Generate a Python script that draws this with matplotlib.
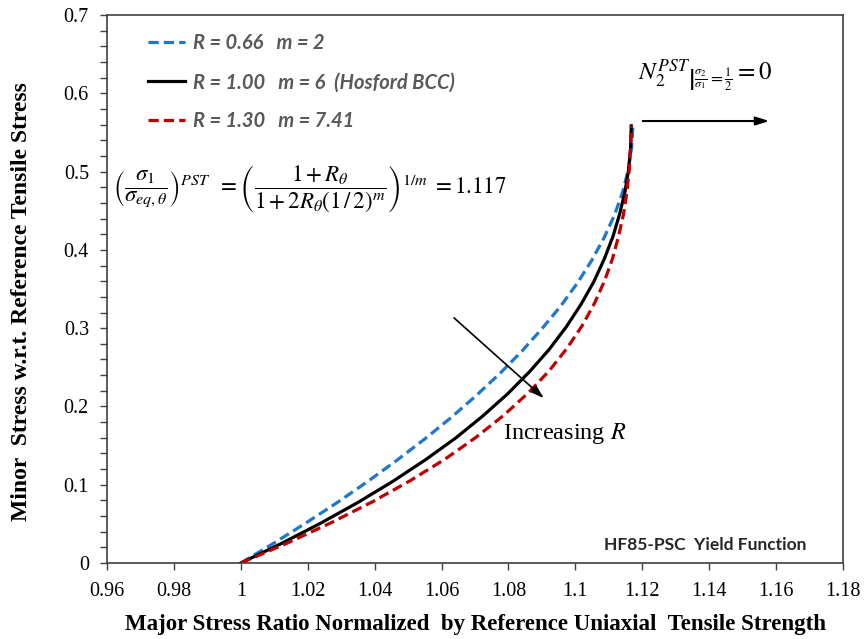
import matplotlib.pyplot as plt
from matplotlib.ticker import MultipleLocator

plt.rcParams['mathtext.fontset'] = 'stix'

# Curves: major stress ratio (x) vs minor stress (y)
x_r066 = [1.0000, 1.0098, 1.0194, 1.0288, 1.0378, 1.0465, 1.0549, 1.0629, 1.0704, 1.0775, 1.0841,
          1.0901, 1.0957, 1.1006, 1.1049, 1.1086, 1.1117, 1.1141, 1.1158, 1.1168, 1.1172]
y_r066 = [0.0000, 0.0252, 0.0510, 0.0772, 0.1038, 0.1308, 0.1582, 0.1860, 0.2141, 0.2424, 0.2710,
          0.2998, 0.3287, 0.3577, 0.3867, 0.4157, 0.4447, 0.4735, 0.5021, 0.5305, 0.5586]
x_r100 = [1.0000, 1.0123, 1.0240, 1.0351, 1.0455, 1.0552, 1.0642, 1.0723, 1.0797, 1.0863, 1.0922,
          1.0973, 1.1017, 1.1055, 1.1086, 1.1112, 1.1132, 1.1148, 1.1159, 1.1165, 1.1167]
y_r100 = [0.0000, 0.0253, 0.0512, 0.0776, 0.1045, 0.1319, 0.1596, 0.1877, 0.2159, 0.2444, 0.2730,
          0.3018, 0.3305, 0.3593, 0.3880, 0.4167, 0.4453, 0.4738, 0.5021, 0.5303, 0.5584]
x_r130 = [1.0000, 1.0138, 1.0269, 1.0392, 1.0506, 1.0610, 1.0703, 1.0786, 1.0859, 1.0922, 1.0975,
          1.1020, 1.1057, 1.1087, 1.1111, 1.1129, 1.1144, 1.1154, 1.1161, 1.1165, 1.1167]
y_r130 = [0.0000, 0.0253, 0.0513, 0.0779, 0.1051, 0.1326, 0.1606, 0.1888, 0.2172, 0.2457, 0.2744,
          0.3030, 0.3317, 0.3603, 0.3889, 0.4174, 0.4457, 0.4741, 0.5023, 0.5304, 0.5583]

series_labels = ['R = 0.66   m = 2',
                 'R = 1.00   m = 6  (Hosford BCC)',
                 'R = 1.30   m = 7.41']

x_ticks = [0.96, 0.98, 1.00, 1.02, 1.04, 1.06, 1.08, 1.10, 1.12, 1.14, 1.16, 1.18]
x_tick_labels = ['0.96', '0.98', '1', '1.02', '1.04', '1.06', '1.08', '1.1',
                 '1.12', '1.14', '1.16', '1.18']
y_ticks = [0, 0.1, 0.2, 0.3, 0.4, 0.5, 0.6, 0.7]
y_tick_labels = ['0', '0.1', '0.2', '0.3', '0.4', '0.5', '0.6', '0.7']

fig = plt.figure(figsize=(8.65, 6.39), dpi=100)
ax = fig.add_axes([0.1237, 0.1189, 0.8509, 0.8576])

# Plot the three curves
lw = 2.3
l1, = ax.plot(x_r066, y_r066, color='#1F77C9', lw=lw, dashes=(3.2, 1.6),
              dash_capstyle='butt')
l2, = ax.plot(x_r100, y_r100, color='black', lw=lw)
l3, = ax.plot(x_r130, y_r130, color='#C00000', lw=lw, dashes=(3.2, 1.6),
              dash_capstyle='butt')

ax.set_xlim(0.96, 1.18)
ax.set_ylim(0, 0.7)
ax.set_xticks(x_ticks)
ax.set_xticklabels(x_tick_labels, family='Liberation Serif', fontsize=14.5)
ax.set_yticks(y_ticks)
ax.set_yticklabels(y_tick_labels, family='Liberation Serif', fontsize=14.5)
ax.yaxis.set_minor_locator(MultipleLocator(0.02))
ax.tick_params(axis='both', which='both', direction='out', length=5,
               width=1, color='#404040')
ax.tick_params(axis='x', pad=9)
ax.tick_params(axis='y', pad=8)
for sp in ax.spines.values():
    sp.set_color('#404040')
    sp.set_linewidth(1.2)

ax.set_xlabel('Major Stress Ratio Normalized  by Reference Uniaxial  Tensile Strength',
              family='Liberation Serif', fontweight='bold', fontsize=16.5, va='center')
ax.xaxis.set_label_coords(0.5, -0.113)
ax.set_ylabel('Minor  Stress w.r.t. Reference Tensile Stress',
              family='Liberation Serif', fontweight='bold', fontsize=17, va='center')
ax.yaxis.set_label_coords(-0.1155, 0.478)

# Legend
leg = ax.legend([l1, l2, l3], series_labels, loc='upper left',
                bbox_to_anchor=(0.0557, 0.967), frameon=False, borderpad=0,
                borderaxespad=0, handlelength=1.84, handletextpad=0.4,
                labelspacing=0.95,
                prop={'family': 'Lato', 'weight': 'bold', 'style': 'italic', 'size': 14.5})
for t in leg.get_texts():
    t.set_color('#595959')

# Equations and annotations
ax.text(0.9618, 0.477,
        r'$\left(\dfrac{\sigma_1}{\sigma_{eq,\theta}}\right)^{PST}\;\;'
        r' = \left(\dfrac{1+R_\theta}{1+2R_\theta(1\,/\,2)^m}\right)^{1/m}\; = 1.117$',
        fontsize=16.5, ha='left', va='center')
ax.text(1.1187, 0.6234,
        r'$N_2^{PST}\left|{}_{\frac{\sigma_2}{\sigma_1}=\frac{1}{2}}\right. = 0$',
        fontsize=18, ha='left', va='center')
ax.annotate('', xy=(1.1588, 0.5646), xytext=(1.1193, 0.5646),
            arrowprops=dict(arrowstyle='-|>,head_length=0.8,head_width=0.25',
                            color='black', lw=1.5))
ax.annotate('', xy=(1.0912, 0.2082), xytext=(1.0631, 0.3155),
            arrowprops=dict(arrowstyle='-|>,head_length=0.8,head_width=0.25',
                            color='black', lw=1.2))
ax.text(1.0784, 0.166, 'Increasing $R$', family='Liberation Serif',
        fontsize=17.5, ha='left', va='center')
ax.text(1.1689, 0.023, 'HF85-PSC  Yield Function', family='Lato',
        fontweight='bold', fontsize=12.5, color='#262626', ha='right', va='center')

fig.savefig('out.png', dpi=100)
